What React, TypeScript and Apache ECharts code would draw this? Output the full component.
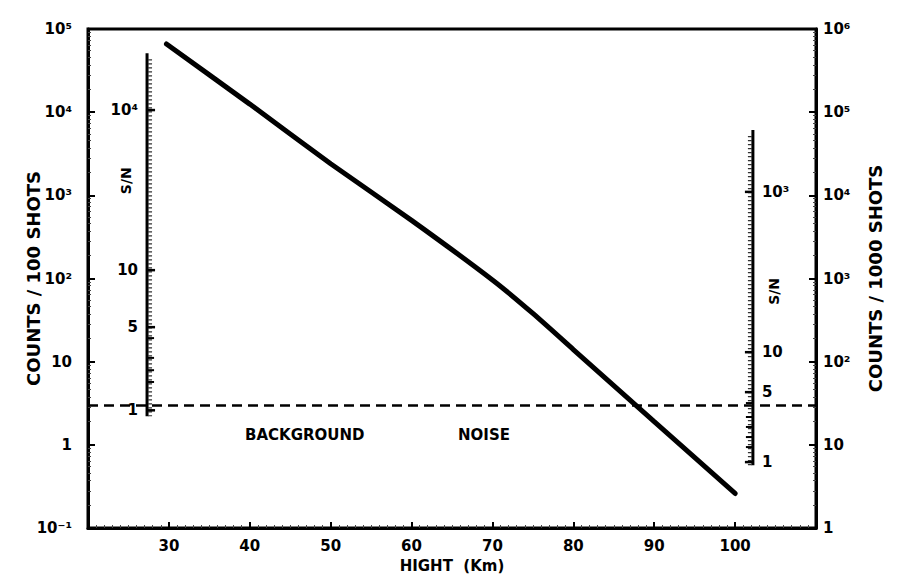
import React, { useEffect, useRef } from "react";
import * as echarts from "echarts";

// Curve: counts per 100 shots vs height (km)
const heights = [29.7, 40, 50, 60, 70, 75, 80, 90, 100];
const counts = [66000, 12500, 2400, 500, 96, 38, 14, 1.9, 0.26];

// Background noise level (counts / 100 shots)
const backgroundLevel = 3;

// X tick labels
const xTickLabels = ["30", "40", "50", "60", "70", "80", "90", "100"];

// Left inner S/N scale (positions in counts / 100 shots)
const snLeftExtent = [51000, 2.2];
const snLeftTickValues = [10600, 126, 26, 19.2, 11.1, 7.9, 5.7, 2.6];
const snLeftTickLabels = ["10⁴", "10", "5", "", "", "", "", "1"];

// Right inner S/N scale (positions in counts / 1000 shots)
const snRightExtent = [61000, 5.7];
const snRightTickValues = [11000, 130, 43, 31.8, 21.6, 16.4, 12.4, 9.4, 6.2];
const snRightTickLabels = ["10³", "10", "5", "", "", "", "", "", "1"];

const SUP: Record<string, string> = {
  "-": "⁻", "0": "⁰", "1": "¹", "2": "²", "3": "³", "4": "⁴", "5": "⁵", "6": "⁶", "7": "⁷", "8": "⁸", "9": "⁹",
};
function powLabel(v: number): string {
  const e = Math.round(Math.log10(v));
  if (e === 0) return "1";
  if (e === 1) return "10";
  return "10" + String(e).split("").map((c) => SUP[c]).join("");
}

const FONT = "DejaVu Sans";

export default function App() {
  const ref = useRef<HTMLDivElement>(null);
  useEffect(() => {
    if (!ref.current) return;
    const chart = echarts.init(ref.current, undefined, { renderer: "svg" });
    const axisText = { color: "#000", fontFamily: FONT, fontWeight: "bold" as const, fontSize: 15 };
    const nameText = { color: "#000", fontFamily: FONT, fontWeight: "bold" as const, fontSize: 18 };
    chart.setOption({
      animation: false,
      backgroundColor: "#fff",
      grid: {
        left: 88,
        right: 82,
        top: 29,
        bottom: 49,
        show: true,
        borderColor: "#000",
        borderWidth: 3,
        outerBoundsMode: "none",
        containLabel: false,
      },
      xAxis: {
        type: "value",
        min: 20,
        max: 110,
        interval: 10,
        name: "HIGHT  (Km)",
        nameLocation: "middle",
        nameGap: 30,
        nameMoveOverlap: false,
        nameTextStyle: { ...nameText, fontSize: 15 },
        axisLine: { lineStyle: { color: "#000", width: 3 } },
        axisTick: { inside: true, length: 6, lineStyle: { color: "#000", width: 2 } },
        minorTick: { show: true, splitNumber: 10, length: 3, lineStyle: { color: "#444", width: 1 } },
        splitLine: { show: false },
        axisLabel: {
          ...axisText,
          margin: 10,
          formatter: (v: number) => {
            const s = String(Math.round(v));
            return xTickLabels.includes(s) ? s : "";
          },
        },
      },
      yAxis: [
        {
          type: "log",
          logBase: 10,
          min: 0.1,
          max: 1e5,
          splitNumber: 6,
          position: "left",
          name: "COUNTS / 100 SHOTS",
          nameLocation: "middle",
          nameRotate: 90,
          nameGap: 46,
          nameMoveOverlap: false,
          nameTextStyle: nameText,
          axisLine: { show: true, lineStyle: { color: "#000", width: 3 } },
          axisTick: { show: true, inside: true, length: 7, lineStyle: { color: "#000", width: 2 } },
          minorTick: { show: true, splitNumber: 10, length: 3, lineStyle: { color: "#444", width: 1 } },
          splitLine: { show: false },
          axisLabel: { ...axisText, margin: 16, formatter: powLabel },
        },
        {
          type: "log",
          logBase: 10,
          min: 1,
          max: 1e6,
          splitNumber: 6,
          position: "right",
          name: "COUNTS / 1000 SHOTS",
          nameLocation: "middle",
          nameRotate: 90,
          nameGap: 50,
          nameMoveOverlap: false,
          nameTextStyle: nameText,
          axisLine: { show: true, lineStyle: { color: "#000", width: 3 } },
          axisTick: { show: true, inside: true, length: 7, lineStyle: { color: "#000", width: 2 } },
          minorTick: { show: true, splitNumber: 10, length: 3, lineStyle: { color: "#444", width: 1 } },
          splitLine: { show: false },
          axisLabel: { ...axisText, margin: 7, formatter: powLabel },
        },
      ],
      series: [
        {
          type: "line",
          yAxisIndex: 0,
          data: heights.map((h, i) => [h, counts[i]]),
          showSymbol: false,
          smooth: 0.2,
          lineStyle: { color: "#000", width: 5, cap: "round" },
          markLine: {
            silent: true,
            symbol: "none",
            label: { show: false },
            lineStyle: { color: "#000", width: 2.5, type: [10, 6] },
            data: [{ yAxis: backgroundLevel }],
          },
        },
      ],
    });

    const px = (h: number, v: number, yi: number) =>
      chart.convertToPixel({ xAxisIndex: 0, yAxisIndex: yi }, [h, v]) as number[];

    const graphics: any[] = [];
    const snAxis = (
      h: number,
      yi: number,
      extent: number[],
      vals: number[],
      labels: string[],
      side: 1 | -1,
      snTextValue: number
    ) => {
      const top = px(h, extent[0], yi);
      const bot = px(h, extent[1], yi);
      const x = top[0];
      graphics.push({
        type: "line",
        shape: { x1: x, y1: top[1], x2: x, y2: bot[1] },
        style: { stroke: "#000", lineWidth: 3 },
        z: 10,
      });
      // minor tick texture
      graphics.push({
        type: "line",
        shape: { x1: x + side * 3, y1: top[1] + 6, x2: x + side * 3, y2: bot[1] },
        style: { stroke: "#333", lineWidth: 4, lineDash: [1.2, 2.8] },
        z: 10,
      });
      vals.forEach((v, i) => {
        const p = px(h, v, yi);
        const major = labels[i] !== "";
        graphics.push({
          type: "line",
          shape: { x1: x, y1: p[1], x2: x + side * (major ? 8 : 7), y2: p[1] },
          style: { stroke: "#000", lineWidth: major ? 2.5 : 2 },
          z: 10,
        });
        if (major) {
          graphics.push({
            type: "text",
            x: x - side * 9,
            y: p[1],
            style: {
              text: labels[i],
              fill: "#000",
              font: `bold 15px "${FONT}"`,
              align: side === 1 ? "right" : "left",
              verticalAlign: "middle",
            },
            z: 10,
          });
        }
      });
      const sp = px(h, snTextValue, yi);
      graphics.push({
        type: "text",
        x: x - side * 21,
        y: sp[1],
        rotation: Math.PI / 2,
        style: {
          text: "S/N",
          fill: "#000",
          font: `bold 14px "${FONT}"`,
          align: "center",
          verticalAlign: "middle",
        },
        z: 10,
      });
    };

    snAxis(27.3, 0, snLeftExtent, snLeftTickValues, snLeftTickLabels, 1, 1500);
    snAxis(102.2, 1, snRightExtent, snRightTickValues, snRightTickLabels, -1, 700);

    graphics.push({
      type: "text",
      x: 245,
      y: 435,
      style: { text: "BACKGROUND", fill: "#000", font: `bold 15px "${FONT}"`, align: "left", verticalAlign: "middle" },
      z: 10,
    });
    graphics.push({
      type: "text",
      x: 458,
      y: 435,
      style: { text: "NOISE", fill: "#000", font: `bold 15px "${FONT}"`, align: "left", verticalAlign: "middle" },
      z: 10,
    });

    chart.setOption({ graphic: graphics });
    return () => chart.dispose();
  }, []);
  return (
    <div
      ref={ref}
      style={{ position: "fixed", left: 0, top: 0, width: 898, height: 577, background: "#fff" }}
    />
  );
}
